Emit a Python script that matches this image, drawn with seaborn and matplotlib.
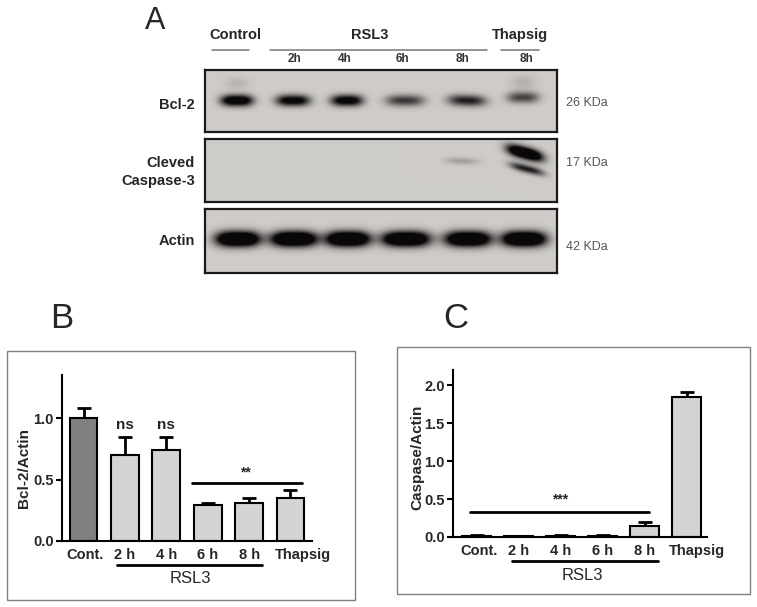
import numpy as np
import pandas as pd
import matplotlib
matplotlib.use("Agg")
import matplotlib.pyplot as plt
import matplotlib.transforms as mtransforms
import seaborn as sns
from matplotlib.lines import Line2D
from matplotlib.patches import Rectangle

# ---------------- data ----------------
groups = ["Cont.", "2 h", "4 h", "6 h", "8 h", "Thapsig"]
bcl2_mean = [1.00, 0.70, 0.74, 0.29, 0.31, 0.35]
bcl2_sem = [0.08, 0.145, 0.105, 0.022, 0.04, 0.065]
casp_mean = [0.01, 0.01, 0.015, 0.015, 0.15, 1.85]
casp_sem = [0.01, 0.006, 0.01, 0.01, 0.05, 0.06]

blot_lanes = ["Control", "2h", "4h", "6h", "8h", "Thapsig 8h"]
lane_labels = ["2h", "4h", "6h", "8h", "8h"]
bcl2_band = [1.0, 0.85, 0.88, 0.55, 0.65, 0.50]
casp_band_upper = [0.0, 0.0, 0.0, 0.0, 0.22, 1.3]
casp_band_lower = [0.0, 0.0, 0.0, 0.0, 0.0, 0.9]
actin_band = [1.3, 1.3, 1.3, 1.25, 1.25, 1.3]
blot_rows = ["Bcl-2", "Cleved\nCaspase-3", "Actin"]
kda_labels = ["26 KDa", "17 KDa", "42 KDa"]

# ---------------- style ----------------
sns.set_style("ticks")
plt.rcParams["font.family"] = ["Liberation Sans", "DejaVu Sans"]

W, H = 757, 607
fig = plt.figure(figsize=(W / 100, H / 100), dpi=100)


def ax_px(x0, y0, x1, y1):
    return fig.add_axes([x0 / W, 1 - y1 / H, (x1 - x0) / W, (y1 - y0) / H])


def txt(x, y, s, **kw):
    kw.setdefault("va", "center")
    fig.text(x / W, 1 - y / H, s, **kw)


def hline(x0, x1, y, **kw):
    fig.add_artist(Line2D([x0 / W, x1 / W], [1 - y / H, 1 - y / H],
                          transform=fig.transFigure, **kw))


# ---------------- panel A (blot) ----------------
txt(145, 21, "A", fontsize=22, ha="left")
txt(235, 35, "Control", fontsize=10.5, fontweight="bold", ha="center")
txt(370, 35, "RSL3", fontsize=10.5, fontweight="bold", ha="center")
txt(520, 35, "Thapsig", fontsize=10.5, fontweight="bold", ha="center")
for a, b in [(212, 249), (270, 487), (501, 539)]:
    hline(a, b, 49.5, color="#777777", lw=1.1)
for xl, s in zip([294, 345, 402, 463, 527], lane_labels):
    txt(xl, 58.5, s, fontsize=8.5, fontweight="bold", ha="center", color="#333333")

lane_x = [32, 88, 142, 200, 262, 318]
box_x0, box_x1 = 205, 557
strips = [(70, 132), (139, 202), (209, 273)]
row_label_y = [105, 172, 241]
kda_y = [103, 163, 247]


def blot(ax, w, h, bands, haze=()):
    yy, xx = np.mgrid[0:h, 0:w] + 0.5
    D = np.zeros((h, w))
    for cx, cy, sx, sy, amp, slope in bands:
        yc = cy + slope * (xx - cx)
        D += amp * np.exp(-np.abs((xx - cx) / sx) ** 3) * np.exp(-((yy - yc) / sy) ** 2)
    for cx, cy, sx, sy, amp in haze:
        D += amp * np.exp(-((xx - cx) / sx) ** 2) * np.exp(-((yy - cy) / sy) ** 2)
    D = np.clip(D, 0, 1)
    bg = np.array([0.81, 0.80, 0.79])
    dk = np.array([0.04, 0.03, 0.03])
    img = bg * (1 - D[..., None]) + dk * D[..., None]
    ax.imshow(img, extent=[0, w, h, 0], aspect="auto", interpolation="bilinear")
    ax.set_xticks([])
    ax.set_yticks([])
    for sp in ax.spines.values():
        sp.set_linewidth(1.6)
        sp.set_color("#1a1a1a")
        sp.set_visible(True)


bw = box_x1 - box_x0
# Bcl-2
(y0, y1) = strips[0]
bands = []
haze = []
bcl2_sx = [16, 17, 16, 19, 19, 16]
for i, a in enumerate(bcl2_band):
    cy = 31 if i < 5 else 28
    bands.append((lane_x[i], cy, bcl2_sx[i], 5.5, a * 1.4, 0.03 if i == 4 else 0))
haze.append((lane_x[0], 14, 12, 6, 0.12))
haze.append((lane_x[5], 13, 12, 7, 0.14))
ax = ax_px(box_x0, y0, box_x1, y1)
blot(ax, bw, y1 - y0, bands, haze)
# Caspase
(y0, y1) = strips[1]
bands = []
for i, (u, l) in enumerate(zip(casp_band_upper, casp_band_lower)):
    if u > 0:
        if i == 5:
            bands.append((lane_x[i] + 2, 14, 18, 6, u * 1.3, 0.25))
        else:
            bands.append((lane_x[i] - 5, 22, 17, 3.5, u, 0.03))
    if l > 0:
        bands.append((lane_x[i] + 4, 30, 17, 4, l, 0.25))
ax = ax_px(box_x0, y0, box_x1, y1)
blot(ax, bw, y1 - y0, bands)
# Actin
(y0, y1) = strips[2]
actin_sx = [22, 23, 22, 24, 23, 22]
bands = [(lane_x[i] + 1, 30, actin_sx[i], 7.5, a * 1.4, 0) for i, a in enumerate(actin_band)]
ax = ax_px(box_x0, y0, box_x1, y1)
blot(ax, bw, y1 - y0, bands)

txt(195, row_label_y[0], blot_rows[0], fontsize=10.5, fontweight="bold", ha="right")
txt(195, row_label_y[1], blot_rows[1], fontsize=10.5, fontweight="bold", ha="right",
    linespacing=1.35)
txt(195, row_label_y[2], blot_rows[2], fontsize=10.5, fontweight="bold", ha="right")
for yk, s in zip(kda_y, kda_labels):
    txt(566, yk, s, fontsize=9, ha="left", color="#555555")


# ---------------- bar panels ----------------
def bar_panel(ax, means, sems, colors, ylim, yticks, width, last_shift):
    df = pd.DataFrame({"group": groups, "value": means})
    sns.barplot(data=df, x="group", y="value", hue="group", palette=colors,
                order=groups, hue_order=groups, legend=False, errorbar=None,
                width=width, edgecolor="black", linewidth=1.5, ax=ax, zorder=2)
    ax.errorbar(np.arange(len(groups)), means, yerr=[np.zeros(len(groups)), sems],
                fmt="none", ecolor="black", elinewidth=2, capsize=5, capthick=2,
                zorder=1)
    ax.set_ylim(*ylim)
    ax.set_yticks(yticks)
    ax.set_yticklabels([f"{t:.1f}" for t in yticks], fontsize=10.5, fontweight="bold")
    ax.set_xticks(np.arange(len(groups)))
    ax.set_xticklabels(groups, fontsize=10.5, fontweight="bold")
    ax.set_xlabel("")
    ax.set_ylabel("")
    ax.set_facecolor("none")
    sns.despine(ax=ax)
    for sp in ["left", "bottom"]:
        ax.spines[sp].set_linewidth(1.5)
        ax.spines[sp].set_color("black")
    ax.tick_params(axis="y", length=4, width=1.5, pad=2, color="black")
    ax.tick_params(axis="x", length=0, pad=5)
    lbls = ax.get_xticklabels()
    off = mtransforms.ScaledTranslation(last_shift / 100, 0, fig.dpi_scale_trans)
    lbls[-1].set_transform(lbls[-1].get_transform() + off)
    off0 = mtransforms.ScaledTranslation(2 / 100, 0, fig.dpi_scale_trans)
    lbls[0].set_transform(lbls[0].get_transform() + off0)


# Panel B
fig.add_artist(Rectangle((7 / W, 1 - 600 / H), (355 - 7) / W, (600 - 351) / H,
                         transform=fig.transFigure, fill=False, ec="#808080", lw=1))
txt(50, 318, "B", fontsize=25, ha="left")
axB = ax_px(62, 375, 312, 541)
bar_panel(axB, bcl2_mean, bcl2_sem,
          ["#808080", "#d4d4d4", "#d4d4d4", "#d4d4d4", "#d4d4d4", "#d4d4d4"],
          (0, 1.35), [0.0, 0.5, 1.0], 0.67, 12)
axB.set_xlim(-0.52, 5.52)
for xi in [1, 2]:
    axB.text(xi, 0.945, "ns", ha="center", va="center", fontsize=11, fontweight="bold")
axB.plot([2.61, 5.27], [0.47, 0.47], color="black", lw=2, clip_on=False)
axB.text(3.92, 0.56, "**", ha="center", va="center", fontsize=10, fontweight="bold")
tr = axB.get_xaxis_transform()
axB.plot([0.81, 4.3], [-0.145, -0.145], color="black", lw=2, transform=tr, clip_on=False)
axB.text(2.57, -0.225, "RSL3", transform=tr, ha="center", va="center", fontsize=12)
txt(24, 468, "Bcl-2/Actin", rotation=90, ha="center", fontsize=11, fontweight="bold")

# Panel C
fig.add_artist(Rectangle((397 / W, 1 - 594 / H), (750 - 397) / W, (594 - 347) / H,
                         transform=fig.transFigure, fill=False, ec="#808080", lw=1))
txt(443, 318, "C", fontsize=25, ha="left")
axC = ax_px(453, 370, 707, 537)
bar_panel(axC, casp_mean, casp_sem, ["#d4d4d4"] * 6,
          (0, 2.2), [0.0, 0.5, 1.0, 1.5, 2.0], 0.69, 10)
axC.set_xlim(-0.57, 5.48)
axC.plot([-0.17, 4.1], [0.33, 0.33], color="black", lw=2, clip_on=False)
axC.text(1.98, 0.49, "***", ha="center", va="center", fontsize=10, fontweight="bold")
tr = axC.get_xaxis_transform()
axC.plot([0.83, 4.31], [-0.144, -0.144], color="black", lw=2, transform=tr, clip_on=False)
axC.text(2.52, -0.232, "RSL3", transform=tr, ha="center", va="center", fontsize=12)
txt(417, 457, "Caspase/Actin", rotation=90, ha="center", fontsize=11, fontweight="bold")

fig.savefig("out.png", dpi=100)
